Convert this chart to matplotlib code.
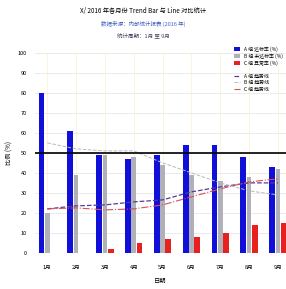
import numpy as np
import matplotlib.pyplot as plt
from matplotlib.lines import Line2D

plt.rcParams['font.family'] = ['Noto Sans CJK SC', 'DejaVu Sans']

# data
months = ['1月', '2月', '3月', '4月', '5月', '6月', '7月', '8月', '9月']
bar_a = [80, 61, 49, 47, 49, 54, 54, 48, 43]
bar_b = [20, 39, 49, 48, 44, 39, 36, 38, 42]
bar_c = [0, 0, 2, 5, 7, 8, 10, 14, 15]
line_a = [22, 23.5, 24, 25.5, 26.5, 30.5, 33, 35, 35]
line_b = [22, 22.5, 21.5, 22, 24, 28, 32, 35.5, 37]
line_c = [55, 52, 51, 51, 45, 40, 35, 31, 29]
target = 50

fig = plt.figure(figsize=(2.86, 2.89), dpi=100)
ax = fig.add_axes([0.122, 0.125, 0.878, 0.692])

x = np.arange(len(months))
b1 = ax.bar(x - 0.2, bar_a, 0.2, color='#1010d8', label='A 组 达标率 (%)', zorder=3)
b2 = ax.bar(x, bar_b, 0.16, color='#b0b0b8', label='B 组 未达标率 (%)', zorder=3)
b3 = ax.bar(x + 0.2, bar_c, 0.2, color='#e82020', label='C 组 异常率 (%)', zorder=3)

l1, = ax.plot(x, line_a, color='#5a3a9a', lw=0.9, ls='--', label='A 组 趋势线', zorder=4)
l2, = ax.plot(x, line_c, color='#b8b8c0', lw=0.7, ls='--', label='B 组 趋势线', zorder=4)
l3, = ax.plot(x, line_b, color='#d85050', lw=0.8, ls='-.', label='C 组 趋势线', zorder=4)
ax.axhline(target, color='black', lw=1.2, zorder=5)

ax.set_xlim(-0.43, 8.28)
ax.set_ylim(0, 100)
ax.set_yticks(range(0, 101, 10))
ax.set_xticks(x)
ax.set_xticklabels(months)
ax.tick_params(labelsize=4, length=0)
ax.tick_params(axis='x', pad=9)
ax.tick_params(axis='y', pad=6)
ax.grid(axis='y', color='#e8e8e8', lw=0.6, zorder=0)
ax.grid(axis='x', color='#fbf3d8', lw=0.6, zorder=0)
for s in ax.spines.values():
    s.set_visible(False)

ax.set_xlabel('日期', fontsize=4.5, labelpad=5)
ax.set_ylabel('比例 (%)', fontsize=4.5, labelpad=3)

fig.text(0.5, 0.955, 'X/ 2016 年各月份 Trend Bar 与 Line 对比统计', ha='center', fontsize=4.5)
fig.text(0.5, 0.91, '数据来源：内部统计报表 (2016 年)', ha='center', fontsize=4, color='#4060c0')
fig.text(0.5, 0.872, '统计周期：1月 至 9月', ha='center', fontsize=4, color='#404060')

blank = Line2D([], [], color='none')
ax.legend([b1, b2, b3, blank, l1, l2, l3],
          [b1.get_label(), b2.get_label(), b3.get_label(), '', l1.get_label(), l2.get_label(), l3.get_label()],
          loc='upper right', bbox_to_anchor=(1.0, 1.05), fontsize=3.5, frameon=False,
          handlelength=1.2, labelspacing=0.3, borderpad=0.2)

fig.savefig('out.png', dpi=100)
